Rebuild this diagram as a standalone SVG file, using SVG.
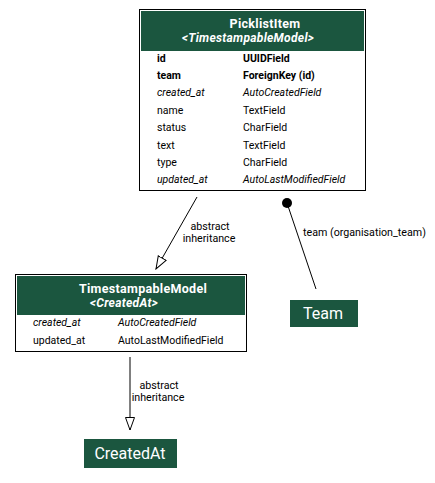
<svg xmlns="http://www.w3.org/2000/svg" width="435" height="483" viewBox="0 0 435 483">
<style>
text{font-family:Roboto,"Liberation Sans",sans-serif;fill:#000}
.t{font-size:12.5px;font-weight:bold;fill:#fff;text-anchor:middle;letter-spacing:0.3px}
.ti{font-size:12px;font-weight:bold;font-style:italic;fill:#fff;text-anchor:middle;letter-spacing:0.3px}
.f{font-size:10.5px}
.b{font-weight:bold}
.i{font-style:italic}
.box{fill:#fff;stroke:#000;stroke-width:1}
.hd{fill:#1b563f}
.lbl{font-size:16px;fill:#fff;text-anchor:middle}
.el{font-size:10.7px}
.edge{fill:none;stroke:#000;stroke-width:1}
</style>
<defs>
<marker id="tri" markerWidth="14" markerHeight="12" refX="13" refY="5" orient="auto" markerUnits="userSpaceOnUse" viewBox="0 0 14 10">
<path d="M0.5,0.5 L13,5 L0.5,9.5 Z" fill="#fff" stroke="#000" stroke-width="1"/>
</marker>
</defs>
<g id="edges">
<g id="e1">
<line class="edge" x1="197" y1="197" x2="156" y2="269" marker-end="url(#tri)"/>
<text class="el" x="210" y="230" text-anchor="middle">abstract</text>
<text class="el" x="209" y="242" text-anchor="middle">inheritance</text>
</g>
<g id="e2">
<circle cx="287" cy="203" r="5" fill="#000"/>
<line class="edge" x1="287" y1="203" x2="316" y2="289"/>
<text class="el" x="303" y="236">team (organisation_team)</text>
</g>
<g id="e3">
<line class="edge" x1="130" y1="357" x2="130" y2="430" marker-end="url(#tri)"/>
<text class="el" x="159" y="389" text-anchor="middle">abstract</text>
<text class="el" x="158" y="401" text-anchor="middle">inheritance</text>
</g>
</g>
<g id="PicklistItem">
<rect class="box" x="139.5" y="9.5" width="226" height="181"/>
<rect class="hd" x="141" y="11" width="223" height="40"/>
<text class="t" x="265" y="27.5">PicklistItem</text>
<text class="ti" x="248" y="41.5">&lt;TimestampableModel&gt;</text>
<text x="157" y="62" class="f b">id</text><text x="243" y="62" class="f b">UUIDField</text>
<text x="157" y="79" class="f b">team</text><text x="243" y="79" class="f b">ForeignKey (id)</text>
<text x="157" y="96" class="f i">created_at</text><text x="243" y="96" class="f i">AutoCreatedField</text>
<text x="157" y="114" class="f">name</text><text x="243" y="114" class="f">TextField</text>
<text x="157" y="131" class="f">status</text><text x="243" y="131" class="f">CharField</text>
<text x="157" y="149" class="f">text</text><text x="243" y="149" class="f">TextField</text>
<text x="157" y="166" class="f">type</text><text x="243" y="166" class="f">CharField</text>
<text x="157" y="183" class="f i">updated_at</text><text x="243" y="183" class="f i">AutoLastModifiedField</text>
</g>
<g id="TimestampableModel">
<rect class="box" x="15.5" y="274.5" width="231" height="77"/>
<rect class="hd" x="17" y="276" width="228" height="39"/>
<text class="t" x="143" y="292.5">TimestampableModel</text>
<text class="ti" x="124" y="306.5">&lt;CreatedAt&gt;</text>
<text x="33" y="326" class="f i">created_at</text><text x="118" y="326" class="f i">AutoCreatedField</text>
<text x="33" y="344" class="f">updated_at</text><text x="118" y="344" class="f">AutoLastModifiedField</text>
</g>
<g id="Team">
<rect class="hd" x="290" y="300" width="68" height="27"/>
<text class="lbl" x="323" y="319">Team</text>
</g>
<g id="CreatedAt">
<rect class="hd" x="84" y="439" width="93" height="29"/>
<text class="lbl" x="130" y="459">CreatedAt</text>
</g>
</svg>
